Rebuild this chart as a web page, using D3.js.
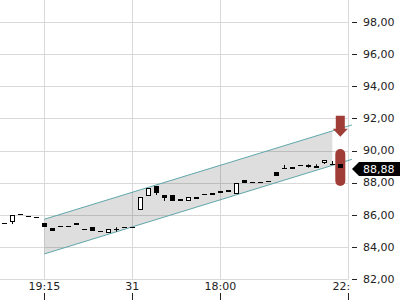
<!DOCTYPE html>
<html>
<head>
<meta charset="utf-8">
<script src="https://cdn.jsdelivr.net/npm/d3@7"></script>
<style>
  body { margin: 0; background: #fff; }
  svg { display: block; font-family: "DejaVu Sans", sans-serif; }
</style>
</head>
<body>
<div id="chart"></div>
<script>
// candles: open, high, low, close (one per slot)
var opens  = [85.47, 85.57, 86.02, 85.94, 85.84, 85.50, 85.20, 85.30, 85.30, 85.47,
              85.09, 85.22, 84.99, 84.91, 85.09, 85.26, 85.22, 86.30, 87.17, 87.79,
              87.23, 87.23, 86.96, 86.86, 87.09, 87.27, 87.34, 87.46, 87.52, 87.27,
              88.16, 88.02, 88.02, 88.08, 88.64, 88.90, 88.95, 89.10, 89.08, 89.04,
              89.24, 89.15, 89.15];
var highs  = [85.47, 85.98, 86.02, 85.94, 85.84, 85.50, 85.20, 85.30, 85.30, 85.47,
              85.09, 85.22, 84.99, 85.14, 85.22, 85.26, 85.22, 87.13, 87.65, 87.79,
              87.23, 87.23, 86.96, 87.13, 87.09, 87.27, 87.34, 87.46, 87.52, 87.96,
              88.16, 88.02, 88.02, 88.08, 88.64, 89.10, 88.95, 89.10, 89.14, 89.14,
              89.41, 89.35, 89.15];
var lows   = [85.47, 85.42, 86.02, 85.88, 85.84, 85.26, 85.00, 85.30, 85.30, 85.34,
              85.09, 84.97, 84.99, 84.91, 84.95, 85.26, 85.22, 86.30, 87.17, 87.23,
              86.86, 86.86, 86.81, 86.86, 86.96, 87.27, 87.21, 87.34, 87.40, 87.27,
              87.96, 88.02, 88.02, 88.08, 88.41, 88.90, 88.85, 89.10, 88.93, 88.93,
              89.16, 89.15, 88.88];
var closes = [85.47, 85.98, 86.02, 85.88, 85.84, 85.26, 85.00, 85.30, 85.30, 85.34,
              85.09, 84.97, 84.99, 85.14, 85.09, 85.26, 85.22, 87.13, 87.65, 87.34,
              87.06, 86.86, 86.81, 87.13, 86.96, 87.27, 87.21, 87.34, 87.40, 87.96,
              87.96, 88.02, 88.02, 88.08, 88.41, 88.90, 88.85, 89.10, 88.93, 88.93,
              89.41, 89.15, 88.88];

var xTickSlots  = [5, 16, 27, 43];
var xTickLabels = ["19:15", "31", "18:00", "22:00"];
var yTicks = [82, 84, 86, 88, 90, 92, 94, 96, 98];

// trend channel (slot, upper, lower)
var channelSlots = [5, 43.45];
var channelUpper = [85.72, 91.59];
var channelLower = [83.56, 89.45];
var channelFillEnd = 41;

// signal markers on the last slot
var signalRange = [87.79, 90.09];
var arrowRange = [90.86, 92.17];
var lastPrice = 88.88;

var width = 400, height = 300;
var plotRight = 348.5, plotBottom = 279;
var red = "#9f3d36";

var svg = d3.select("#chart").append("svg")
  .attr("width", width).attr("height", height);

var x = d3.scaleLinear().domain([0, 43]).range([4.3, 348.3]);
var y = d3.scaleLinear().domain([82, 98]).range([279, 22]);

var fmt = function (v) { return d3.format(".2f")(v).replace(".", ","); };

// grid
svg.append("g").selectAll("line").data(yTicks).enter().append("line")
  .attr("x1", 0).attr("x2", plotRight)
  .attr("y1", function (d) { return Math.round(y(d)) + 0.5; })
  .attr("y2", function (d) { return Math.round(y(d)) + 0.5; })
  .attr("stroke", "#d9d9d9");

svg.append("g").selectAll("line").data(xTickSlots).enter().append("line")
  .attr("x1", function (d) { return Math.round(x(d)) + 0.5; })
  .attr("x2", function (d) { return Math.round(x(d)) + 0.5; })
  .attr("y1", 0).attr("y2", plotBottom)
  .attr("stroke", "#d9d9d9");

// channel fill
var t = function (s) { return (s - channelSlots[0]) / (channelSlots[1] - channelSlots[0]); };
var lerp = function (arr, s) { return arr[0] + (arr[1] - arr[0]) * t(s); };
var poly = [
  [x(channelSlots[0]), y(channelUpper[0])],
  [x(channelFillEnd), y(lerp(channelUpper, channelFillEnd))],
  [x(channelFillEnd), y(lerp(channelLower, channelFillEnd))],
  [x(channelSlots[0]), y(channelLower[0])]
];
svg.append("path")
  .attr("d", d3.line()(poly) + "Z")
  .attr("fill", "rgba(0,0,0,0.13)");

[channelUpper, channelLower].forEach(function (arr) {
  svg.append("line")
    .attr("x1", x(channelSlots[0])).attr("y1", y(arr[0]))
    .attr("x2", x(channelSlots[1])).attr("y2", y(arr[1]))
    .attr("stroke", "#5fa6aa").attr("stroke-width", 1);
});

// signal markers
var cxLast = x(opens.length - 1);
svg.append("rect")
  .attr("x", cxLast - 5).attr("width", 10)
  .attr("y", y(signalRange[1])).attr("height", y(signalRange[0]) - y(signalRange[1]))
  .attr("rx", 5).attr("fill", red);

var aTop = y(arrowRange[1]), aTip = y(arrowRange[0]);
svg.append("path")
  .attr("d", d3.line()([
    [cxLast - 4.5, aTop], [cxLast + 4.5, aTop], [cxLast + 4.5, aTip - 8],
    [cxLast + 7.5, aTip - 8], [cxLast, aTip], [cxLast - 7.5, aTip - 8],
    [cxLast - 4.5, aTip - 8]
  ]) + "Z")
  .attr("fill", red);

// candles
var candles = d3.range(opens.length).map(function (i) {
  return { i: i, o: opens[i], h: highs[i], l: lows[i], c: closes[i] };
});

var g = svg.append("g").selectAll("g").data(candles).enter().append("g");

g.filter(function (d) { return d.h > Math.max(d.o, d.c) || d.l < Math.min(d.o, d.c); })
  .append("line")
  .attr("x1", function (d) { return Math.round(x(d.i)) + 0.5; })
  .attr("x2", function (d) { return Math.round(x(d.i)) + 0.5; })
  .attr("y1", function (d) { return y(d.h); })
  .attr("y2", function (d) { return y(d.l); })
  .attr("stroke", "#000");

g.append("rect")
  .attr("x", function (d) { return Math.round(x(d.i)) - 2 + (d.c > d.o ? 0.5 : 0); })
  .attr("width", function (d) { return d.c > d.o ? 4 : 5; })
  .attr("y", function (d) {
    var top = y(Math.max(d.o, d.c));
    return d.c > d.o ? Math.round(top) + 0.5 : Math.round(top);
  })
  .attr("height", function (d) {
    var hgt = Math.round(y(Math.min(d.o, d.c)) - y(Math.max(d.o, d.c)));
    return Math.max(d.c > d.o ? hgt - 1 : hgt, 1);
  })
  .attr("fill", function (d) { return d.c > d.o ? "#fff" : "#000"; })
  .attr("stroke", function (d) { return d.c > d.o ? "#000" : "none"; });

// right axis
var ry = svg.append("g");
ry.selectAll("line").data(yTicks).enter().append("line")
  .attr("x1", 352).attr("x2", 357)
  .attr("y1", function (d) { return Math.round(y(d)) + 0.5; })
  .attr("y2", function (d) { return Math.round(y(d)) + 0.5; })
  .attr("stroke", "#222");
ry.selectAll("text").data(yTicks).enter().append("text")
  .attr("x", 363).attr("y", function (d) { return y(d); })
  .attr("dy", "0.35em")
  .attr("font-size", 11).attr("fill", "#222")
  .text(fmt);

// last price tag
var ly = Math.round(y(lastPrice)) + 1;
svg.append("path")
  .attr("d", d3.line()([[352, ly], [359, ly - 7], [400, ly - 7], [400, ly + 7], [359, ly + 7]]) + "Z")
  .attr("fill", "#000");
svg.append("text")
  .attr("x", 363).attr("y", ly).attr("dy", "0.35em")
  .attr("font-size", 11).attr("fill", "#fff")
  .text(fmt(lastPrice));

// bottom axis, clipped at the plot edge
svg.append("clipPath").attr("id", "xclip")
  .append("rect").attr("x", 0).attr("y", 280).attr("width", 350.5).attr("height", 20);
var bx = svg.append("g");
bx.append("g").attr("clip-path", "url(#xclip)")
  .selectAll("text").data(xTickSlots).enter().append("text")
  .attr("x", function (d) { return x(d); }).attr("y", 290)
  .attr("text-anchor", "middle")
  .attr("font-size", 11).attr("fill", "#222")
  .text(function (d, i) { return xTickLabels[i]; });
bx.selectAll("line").data(xTickSlots).enter().append("line")
  .attr("x1", function (d) { return Math.round(x(d)) + 0.5; })
  .attr("x2", function (d) { return Math.round(x(d)) + 0.5; })
  .attr("y1", 293).attr("y2", 300)
  .attr("stroke", "#222");
</script>
</body>
</html>
